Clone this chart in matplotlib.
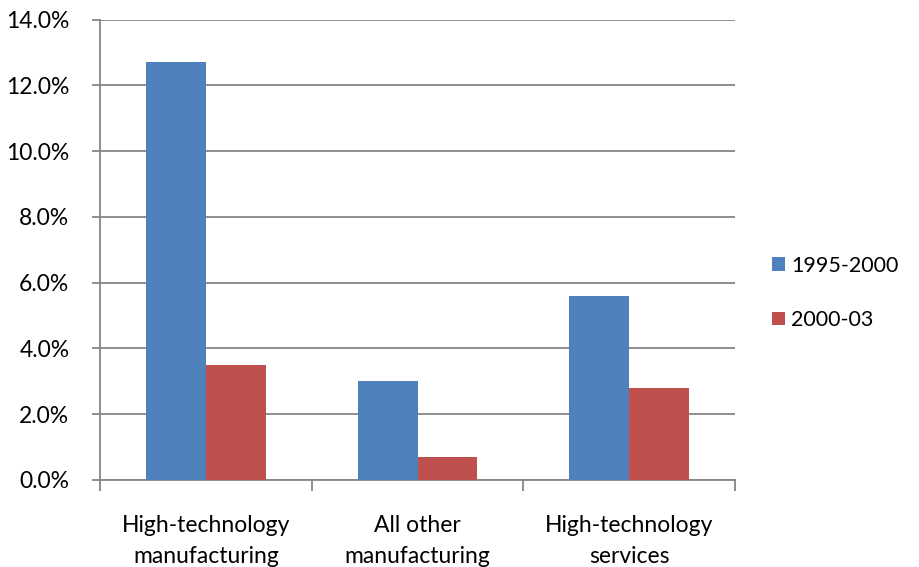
import matplotlib
matplotlib.use("Agg")
import matplotlib.pyplot as plt
import numpy as np
from matplotlib.ticker import FuncFormatter, FixedLocator

categories = ["High-technology\nmanufacturing", "All other\nmanufacturing", "High-technology\nservices"]
series_names = ["1995-2000", "2000-03"]
v1995 = [12.7, 3.0, 5.6]
v2000 = [3.5, 0.7, 2.8]
colors = ["#4F81BD", "#C0504D"]

plt.rcParams['font.family'] = ['Lato', 'DejaVu Sans']

fig = plt.figure(figsize=(9.19, 5.67), dpi=100)
ax = fig.add_axes([100/919, 87/567, 635/919, 460.5/567])

x = np.arange(len(categories))
w = 0.283
ax.bar(x - w/2, v1995, w, color=colors[0], label=series_names[0], zorder=3)
ax.bar(x + w/2, v2000, w, color=colors[1], label=series_names[1], zorder=3)

ax.set_xlim(-0.5, 2.5)
ax.set_ylim(0, 14)
ax.set_yticks(np.arange(0, 14.1, 2))
ax.yaxis.set_major_formatter(FuncFormatter(lambda v, p: f"{v:.1f}%"))
ax.grid(axis='y', color='#868686', linewidth=1.3, zorder=0)
ax.set_axisbelow(True)

ax.set_xticks(x)
ax.set_xticklabels(categories, fontsize=16.5, linespacing=1.6)
ax.xaxis.set_minor_locator(FixedLocator([-0.5, 0.5, 1.5, 2.5]))
ax.tick_params(axis='x', which='major', length=0, pad=25)
ax.tick_params(axis='x', which='minor', length=8, color='#868686', width=1.3)
ax.tick_params(axis='y', length=6, color='#868686', width=1.3, labelsize=16.5, pad=16)

for s in ['top', 'right']:
    ax.spines[s].set_visible(False)
for s in ['left', 'bottom']:
    ax.spines[s].set_color('#868686')
    ax.spines[s].set_linewidth(1.3)

leg = fig.legend(loc='center left', bbox_to_anchor=(772/919, 1 - 293/567), frameon=False,
                 fontsize=15.5, handlelength=0.6, handleheight=0.6, labelspacing=1.6,
                 handletextpad=0.3, borderpad=0.0, borderaxespad=0.0)

fig.savefig("out.png", dpi=100)
